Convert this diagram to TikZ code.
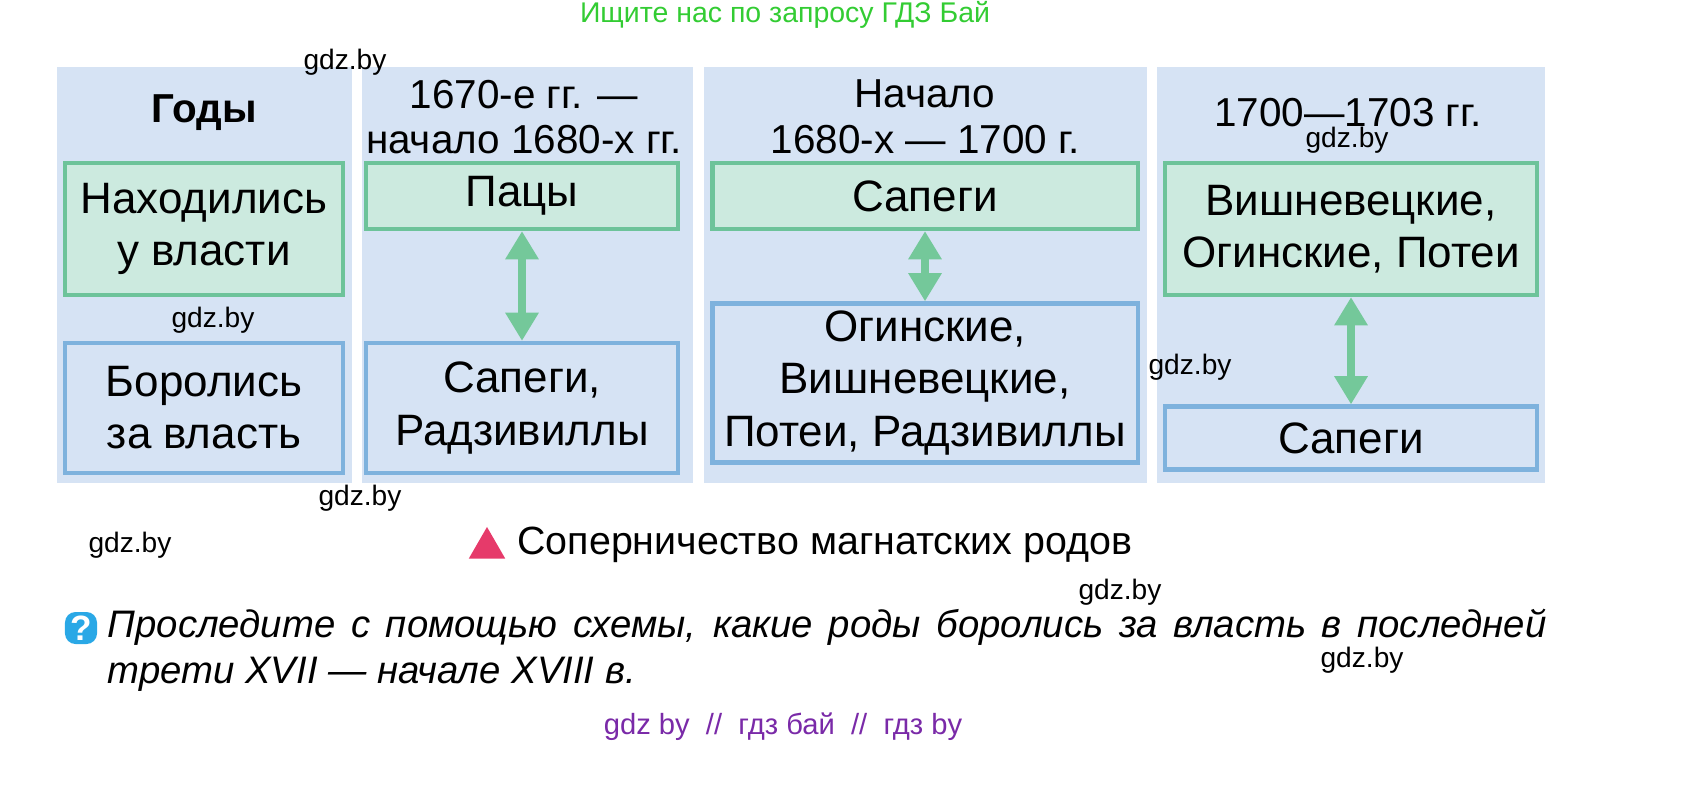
\documentclass[tikz,border=0pt]{standalone}
\usepackage{fontspec}
\setmainfont{Liberation Sans}
\usetikzlibrary{arrows.meta,shapes.geometric}
\definecolor{panelbg}{HTML}{D6E3F4}
\definecolor{greenfill}{HTML}{CCEADF}
\definecolor{greenline}{HTML}{6DC39A}
\definecolor{blueline}{HTML}{7EB2DD}
\definecolor{arrowgreen}{HTML}{74C89A}
\definecolor{wmgreen}{HTML}{33CC33}
\definecolor{wmpurple}{HTML}{7A2AA8}
\definecolor{qblue}{HTML}{2AA8E6}
\definecolor{trired}{HTML}{E63A6A}
\begin{document}
\begin{tikzpicture}[x=0.01cm,y=-0.01cm]
				\tikzstyle{panel}=[fill=panelbg]
				\tikzstyle{gbox}=[draw=greenline, fill=greenfill, line width=1.2pt, align=center, font=\fontsize{12.5}{14.8}\selectfont]
				\tikzstyle{bbox}=[draw=blueline, line width=1.2pt, align=center, font=\fontsize{12.5}{14.8}\selectfont]
				\tikzstyle{head}=[align=center, font=\fontsize{11.5}{13}\selectfont]
				\tikzstyle{wm}=[font=\fontsize{8}{9}\selectfont]
				\tikzset{edge/.style = {{Triangle[width=9pt,length=8pt]}-{Triangle[width=9pt,length=8pt]}, line width=2.2pt, draw=arrowgreen}}
				
				% panels
				\fill[panel] (57,67) rectangle (352,483);
				\fill[panel] (362,67) rectangle (693,483);
				\fill[panel] (704,67) rectangle (1147,483);
				\fill[panel] (1157,67) rectangle (1545,483);
				
				% column 1
				\node[head, font=\bfseries\fontsize{11.5}{13}\selectfont](years) at (204,113) {Годы};
				\node[gbox, minimum width=2.78cm, minimum height=1.32cm, inner sep=0pt](g1) at (204,229) {Находились\\у власти};
				\node[bbox, minimum width=2.78cm, minimum height=1.3cm, inner sep=0pt](b1) at (204,408) {Боролись\\за власть};
				
				% column 2
				\node[head](h2) at (524,117) {1670-е гг. —\\начало 1680-х гг.};
				\node[gbox, minimum width=3.12cm, minimum height=0.66cm, inner sep=0pt](g2) at (522,196) {Пацы};
				\node[bbox, minimum width=3.12cm, minimum height=1.3cm, inner sep=0pt](b2) at (522,408) {Сапеги,\\Радзивиллы};
				\draw[edge](g2) to (b2);
				
				% column 3
				\node[head](h3) at (925,117) {Начало\\1680-х — 1700 г.};
				\node[gbox, minimum width=4.25cm, minimum height=0.66cm, inner sep=0pt](g3) at (925,196) {Сапеги};
				\node[bbox, minimum width=4.25cm, minimum height=1.59cm, inner sep=0pt](b3) at (925,383) {Огинские,\\Вишневецкие,\\Потеи, Радзивиллы};
				\draw[edge](g3) to (b3);
				
				% column 4
				\node[head](h4) at (1348,113) {1700—1703 гг.};
				\node[gbox, minimum width=3.72cm, minimum height=1.32cm, inner sep=0pt](g4) at (1351,229) {Вишневецкие,\\Огинские, Потеи};
				\node[bbox, minimum width=3.72cm, minimum height=0.63cm, inner sep=0pt](b4) at (1351,438) {Сапеги};
				\draw[edge](g4) to (b4);
				
				% legend and question
				\node[fill=trired, regular polygon, regular polygon sides=3, inner sep=0pt, minimum size=0.42cm](tri) at (487,548) {};
				\node[anchor=west, font=\fontsize{11.2}{13}\selectfont](legend) at (505,545) {Соперничество магнатских родов};
				\node[fill=qblue, rounded corners=3pt, minimum size=0.32cm, inner sep=0pt, text=white, font=\bfseries\fontsize{10}{10}\selectfont](q) at (81,628) {?};
				\node[anchor=north west, text width=14.38cm, align=justify, inner sep=0pt, font=\itshape\fontsize{10.9}{13.3}\selectfont](task) at (107,608) {Проследите с помощью схемы, какие роды боролись за власть в последней трети XVII — начале XVIII в.};
				
				% watermarks
				\node[wmgreen, font=\fontsize{8.1}{9}\selectfont](top) at (785,15) {Ищите нас по запросу ГДЗ Бай};
				\node[wmpurple, font=\fontsize{8.3}{9}\selectfont](bottom) at (783,727) {gdz by \ // \ гдз бай \ // \ гдз by};
				\foreach \x/\y in {345/62, 213/320, 360/498, 130/545, 1190/367, 1347/140, 1120/592, 1362/660}
					\node[wm] at (\x,\y) {gdz.by};
				\pgfresetboundingbox
				\useasboundingbox (0,0) rectangle (1701,809);
			\end{tikzpicture}
\end{document}
